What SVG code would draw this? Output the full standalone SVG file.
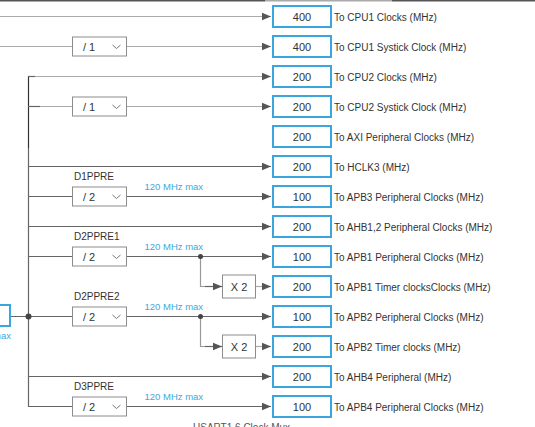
<svg xmlns="http://www.w3.org/2000/svg" width="535" height="427" viewBox="0 0 535 427">
<style>
.ob{fill:#fff;stroke:#3aa6dd;stroke-width:2}
.val{font-family:"Liberation Sans",Arial,sans-serif;font-size:11px;fill:#333;text-anchor:middle}
.lbl{font-family:"Liberation Sans",Arial,sans-serif;font-size:10px;fill:#333}
.max{font-family:"Liberation Sans",Arial,sans-serif;font-size:9.5px;fill:#3ea8dc}
.db{fill:#fff;stroke:#8c8c8c;stroke-width:1}
.dt{font-family:"Liberation Sans",Arial,sans-serif;font-size:11px;fill:#333}
.chev{fill:none;stroke:#777;stroke-width:1}
.ln{fill:none;stroke:#666;stroke-width:1.2}
.lt{fill:none;stroke:#aaa;stroke-width:1.2}
.dk{fill:none;stroke:#333;stroke-width:1.2}
.br{fill:none;stroke:#999;stroke-width:1.2}
.dot{fill:#444}
</style>
<defs>
<marker id="ah" markerUnits="userSpaceOnUse" markerWidth="10" markerHeight="10" refX="9" refY="5" orient="auto">
<path d="M0,1.3 L9,5 L0,8.7 z" fill="#555"/>
</marker>
</defs>
<rect x="0" y="0" width="265" height="1.5" fill="#555"/>
<rect x="265" y="0" width="127" height="1.5" fill="#aaa"/>
<rect x="392" y="0" width="143" height="1.5" fill="#555"/>

<g id="connectors">
<line class="lt" x1="0" y1="16.5" x2="271" y2="16.5" marker-end="url(#ah)"/>
<line class="lt" x1="0" y1="46.5" x2="72.5" y2="46.5"/>
<line class="lt" x1="126.5" y1="46.5" x2="271" y2="46.5" marker-end="url(#ah)"/>
<line class="dk" x1="28.5" y1="75.9" x2="28.5" y2="148"/>
<line class="ln" x1="28.5" y1="148" x2="28.5" y2="407.1"/>
<line class="lt" x1="28.5" y1="76.5" x2="271" y2="76.5" marker-end="url(#ah)"/>
<line class="ln" x1="28.5" y1="76.5" x2="35" y2="76.5"/>
<line class="lt" x1="28.5" y1="106.5" x2="72.5" y2="106.5"/>
<line class="ln" x1="28.5" y1="106.5" x2="40" y2="106.5"/>
<line class="lt" x1="126.5" y1="106.5" x2="271" y2="106.5" marker-end="url(#ah)"/>
<line class="ln" x1="28.5" y1="166.5" x2="271" y2="166.5" marker-end="url(#ah)"/>
<line class="ln" x1="28.5" y1="196.5" x2="72.5" y2="196.5"/>
<line class="ln" x1="126.5" y1="196.5" x2="271" y2="196.5" marker-end="url(#ah)"/>
<line class="ln" x1="28.5" y1="226.5" x2="271" y2="226.5" marker-end="url(#ah)"/>
<line class="ln" x1="28.5" y1="256.5" x2="72.5" y2="256.5"/>
<line class="ln" x1="126.5" y1="256.5" x2="271" y2="256.5" marker-end="url(#ah)"/>
<polyline class="br" points="200.5,256.5 200.5,286.5 206,286.5"/>
<line class="ln" x1="205" y1="286.5" x2="222" y2="286.5" marker-end="url(#ah)"/>
<line class="lt" x1="255.5" y1="286.5" x2="271" y2="286.5" marker-end="url(#ah)"/>
<line class="ln" x1="11" y1="316.5" x2="72.5" y2="316.5"/>
<line class="ln" x1="126.5" y1="316.5" x2="271" y2="316.5" marker-end="url(#ah)"/>
<polyline class="br" points="200.5,316.5 200.5,346.5 206,346.5"/>
<line class="ln" x1="205" y1="346.5" x2="222" y2="346.5" marker-end="url(#ah)"/>
<line class="lt" x1="255.5" y1="346.5" x2="271" y2="346.5" marker-end="url(#ah)"/>
<line class="ln" x1="28.5" y1="376.5" x2="271" y2="376.5" marker-end="url(#ah)"/>
<line class="ln" x1="28.5" y1="406.5" x2="72.5" y2="406.5"/>
<line class="ln" x1="126.5" y1="406.5" x2="271" y2="406.5" marker-end="url(#ah)"/>
<circle class="dot" cx="28.5" cy="316.5" r="3"/>
<circle class="dot" cx="200.5" cy="256.5" r="2.5"/>
<circle class="dot" cx="200.5" cy="316.5" r="2.5"/>
</g>

<g id="source">
<rect class="ob" x="-50" y="305" width="60" height="21"/>
<text class="max" x="11" y="338.5" text-anchor="end">120 MHz max</text>
</g>

<g id="div-cpu1-systick"><rect class="db" x="72.5" y="37" width="54" height="19"/><text class="dt" x="83" y="50.5">/ 1</text><polyline class="chev" points="112.5,45 116.5,48.5 120.5,45"/></g>
<g id="div-cpu2-systick"><rect class="db" x="72.5" y="97" width="54" height="19"/><text class="dt" x="83" y="110.5">/ 1</text><polyline class="chev" points="112.5,105 116.5,108.5 120.5,105"/></g>
<g id="d1ppre"><text class="lbl" x="74" y="179.5">D1PPRE</text><rect class="db" x="72.5" y="187" width="54" height="19"/><text class="dt" x="83" y="200.5">/ 2</text><polyline class="chev" points="112.5,195 116.5,198.5 120.5,195"/><text class="max" x="144.5" y="189.5">120 MHz max</text></g>
<g id="d2ppre1"><text class="lbl" x="74" y="239.5">D2PPRE1</text><rect class="db" x="72.5" y="247" width="54" height="19"/><text class="dt" x="83" y="260.5">/ 2</text><polyline class="chev" points="112.5,255 116.5,258.5 120.5,255"/><text class="max" x="144.5" y="249.5">120 MHz max</text></g>
<g id="d2ppre2"><text class="lbl" x="74" y="299.5">D2PPRE2</text><rect class="db" x="72.5" y="307" width="54" height="19"/><text class="dt" x="83" y="320.5">/ 2</text><polyline class="chev" points="112.5,315 116.5,318.5 120.5,315"/><text class="max" x="144.5" y="309.5">120 MHz max</text></g>
<g id="d3ppre"><text class="lbl" x="74" y="389.5">D3PPRE</text><rect class="db" x="72.5" y="397" width="54" height="19"/><text class="dt" x="83" y="410.5">/ 2</text><polyline class="chev" points="112.5,405 116.5,408.5 120.5,405"/><text class="max" x="144.5" y="399.5">120 MHz max</text></g>
<g id="x2-apb1"><rect class="db" x="222.5" y="275" width="33" height="23"/><text class="dt" x="239" y="290.5" text-anchor="middle">X 2</text></g>
<g id="x2-apb2"><rect class="db" x="222.5" y="335" width="33" height="23"/><text class="dt" x="239" y="350.5" text-anchor="middle">X 2</text></g>

<g id="out-cpu1"><rect class="ob" x="273" y="6" width="58" height="21"/><text class="val" x="302" y="20.5">400</text><text class="lbl" x="334" y="20.5">To CPU1 Clocks (MHz)</text></g>
<g id="out-cpu1-systick"><rect class="ob" x="273" y="36" width="58" height="21"/><text class="val" x="302" y="50.5">400</text><text class="lbl" x="334" y="50.5">To CPU1 Systick Clock (MHz)</text></g>
<g id="out-cpu2"><rect class="ob" x="273" y="66" width="58" height="21"/><text class="val" x="302" y="80.5">200</text><text class="lbl" x="334" y="80.5">To CPU2 Clocks (MHz)</text></g>
<g id="out-cpu2-systick"><rect class="ob" x="273" y="96" width="58" height="21"/><text class="val" x="302" y="110.5">200</text><text class="lbl" x="334" y="110.5">To CPU2 Systick Clock (MHz)</text></g>
<g id="out-axi"><rect class="ob" x="273" y="126" width="58" height="21"/><text class="val" x="302" y="140.5">200</text><text class="lbl" x="334" y="140.5">To AXI Peripheral Clocks (MHz)</text></g>
<g id="out-hclk3"><rect class="ob" x="273" y="156" width="58" height="21"/><text class="val" x="302" y="170.5">200</text><text class="lbl" x="334" y="170.5">To HCLK3 (MHz)</text></g>
<g id="out-apb3"><rect class="ob" x="273" y="186" width="58" height="21"/><text class="val" x="302" y="200.5">100</text><text class="lbl" x="334" y="200.5">To APB3 Peripheral Clocks (MHz)</text></g>
<g id="out-ahb12"><rect class="ob" x="273" y="216" width="58" height="21"/><text class="val" x="302" y="230.5">200</text><text class="lbl" x="334" y="230.5">To AHB1,2 Peripheral Clocks (MHz)</text></g>
<g id="out-apb1"><rect class="ob" x="273" y="246" width="58" height="21"/><text class="val" x="302" y="260.5">100</text><text class="lbl" x="334" y="260.5">To APB1 Peripheral Clocks (MHz)</text></g>
<g id="out-apb1-timer"><rect class="ob" x="273" y="276" width="58" height="21"/><text class="val" x="302" y="290.5">200</text><text class="lbl" x="334" y="290.5">To APB1 Timer clocksClocks (MHz)</text></g>
<g id="out-apb2"><rect class="ob" x="273" y="306" width="58" height="21"/><text class="val" x="302" y="320.5">100</text><text class="lbl" x="334" y="320.5">To APB2 Peripheral Clocks (MHz)</text></g>
<g id="out-apb2-timer"><rect class="ob" x="273" y="336" width="58" height="21"/><text class="val" x="302" y="350.5">200</text><text class="lbl" x="334" y="350.5">To APB2 Timer clocks (MHz)</text></g>
<g id="out-ahb4"><rect class="ob" x="273" y="366" width="58" height="21"/><text class="val" x="302" y="380.5">200</text><text class="lbl" x="334" y="380.5">To AHB4 Peripheral (MHz)</text></g>
<g id="out-apb4"><rect class="ob" x="273" y="396" width="58" height="21"/><text class="val" x="302" y="410.5">100</text><text class="lbl" x="334" y="410.5">To APB4 Peripheral Clocks (MHz)</text></g>

<g id="usart-mux"><text class="lbl" x="193" y="430.5" fill="#555" style="fill:#555">USART1,6 Clock Mux</text></g>
</svg>
